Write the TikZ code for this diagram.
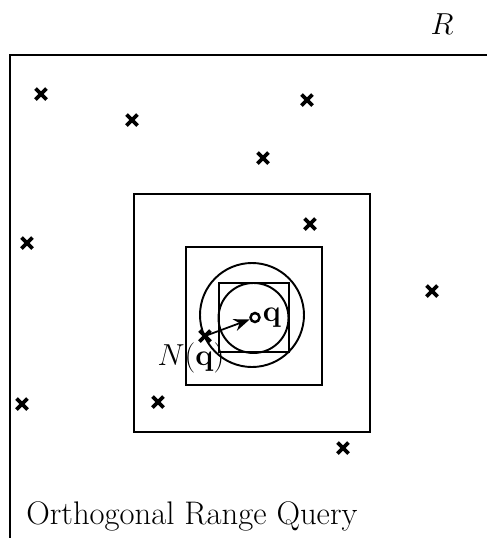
\documentclass[tikz,border=0pt]{standalone}
\usepackage{tikz}
\usetikzlibrary{arrows.meta,positioning}
\tikzset{
  frame/.style={line width=1.2pt},
  sq/.style={line width=1.1pt},
  ring/.style={line width=1.1pt},
  qdot/.style={circle,draw,line width=1.4pt,minimum size=0.18cm,inner sep=0pt},
  ar/.style={-{Stealth[length=9pt,width=7pt]},line width=1pt},
  lbl/.style={font=\fontsize{17}{20}\selectfont,inner sep=0pt},
  xmark/.pic={\draw[line width=2.1pt] (-5.5,-5.5) -- (5.5,5.5) (-5.5,5.5) -- (5.5,-5.5);},
}

\begin{document}
\begin{tikzpicture}[x=0.02cm,y=-0.02cm]
  \useasboundingbox (0,0) rectangle (487,538);
  % outer region R
  \draw[frame] (10,538) -- (10,55) -- (487,55);
  \node[lbl] (rlab) at (442,24) {$R$};
  % nested query ranges
  \draw[sq] (134,194) rectangle (370,432);
  \draw[sq] (186,247) rectangle (322,385);
  \draw[sq] (219,283) rectangle (289,352);
  \draw[ring] (252,315) circle (52);
  \draw[ring] (253.5,318) circle (35);
  % data points
  \foreach \x/\y [count=\i] in {41/94,132/120,307/100,263/158,310/224,
      27/243,432/291,22/404,158/402,343/448}
    \coordinate (p\i) at (\x,\y);
  \foreach \i in {1,...,10}
    \pic at (p\i) {xmark};
  % query point and its nearest neighbour
  \coordinate (nq) at (205,336);
  \pic at (nq) {xmark};
  \node[qdot] (q) at (255,317.5) {};
  \node[lbl,anchor=west] (qlab) at ([xshift=1pt]q.east) {$\mathbf{q}$};
  \draw[ar] (nq) -- (q);
  \node[lbl] (nlab) at (191,358) {$N(\mathbf{q})$};
  % caption
  \node[lbl,anchor=west,font=\fontsize{18.6}{22}\selectfont] (cap) at (26,516) {Orthogonal Range Query};
\end{tikzpicture}
\end{document}
